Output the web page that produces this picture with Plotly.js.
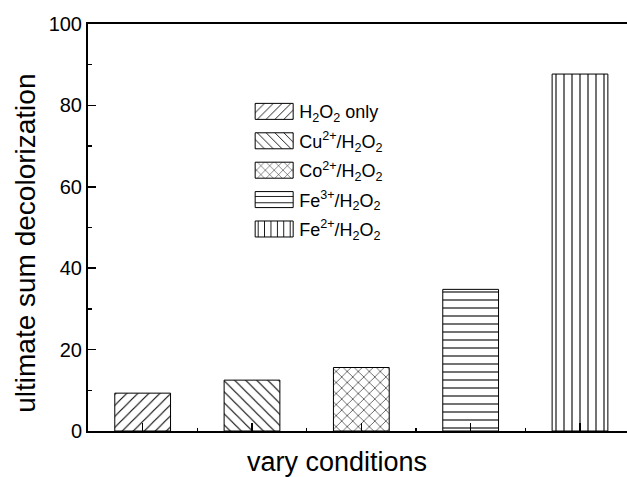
<!DOCTYPE html>
<html>
<head>
<meta charset="utf-8">
<script src="https://cdn.plot.ly/plotly-3.0.1.min.js"></script>
<style>html,body{margin:0;padding:0;background:#fff;overflow:hidden;}</style>
</head>
<body>
<div id="chart" style="width:627px;height:477px;"></div>
<script>
// Data
const categories = ['H<sub>2</sub>O<sub>2</sub> only', 'Cu<sup>2+</sup>/H<sub>2</sub>O<sub>2</sub>', 'Co<sup>2+</sup>/H<sub>2</sub>O<sub>2</sub>', 'Fe<sup>3+</sup>/H<sub>2</sub>O<sub>2</sub>', 'Fe<sup>2+</sup>/H<sub>2</sub>O<sub>2</sub>'];
const decolorization = [9.3, 12.5, 15.6, 34.8, 87.7];
const patterns = ['/', '\\', 'x', '-', '|'];
const patternSizes = [7.8, 7.8, 7.8, 8, 8];
const yTicks = [0, 20, 40, 60, 80, 100];
const xTitle = 'vary conditions';
const yTitle = 'ultimate sum decolorization';

const FONT = 'Liberation Sans, Arial, sans-serif';

const traces = categories.map((name, i) => ({
  type: 'bar',
  name: name,
  legendgroup: 'g' + i,
  x: [i + 1],
  y: [decolorization[i]],
  width: 0.51,
  marker: {
    color: 'white',
    line: {color: 'black', width: 1},
    pattern: {shape: patterns[i], size: patternSizes[i], solidity: 1.1 / patternSizes[i], fgcolor: 'black', bgcolor: 'white', fillmode: 'replace'}
  },
  hoverinfo: 'skip'
}));

const layout = {
  width: 627, height: 477,
  margin: {l: 88, r: 0, t: 24, b: 46, pad: 0},
  paper_bgcolor: 'white', plot_bgcolor: 'white',
  font: {family: FONT, color: 'black'},
  barmode: 'overlay',
  showlegend: true,
  legend: {
    x: 0.299, y: 0.83, xanchor: 'left', yanchor: 'top',
    bgcolor: 'rgba(0,0,0,0)', borderwidth: 0,
    font: {family: FONT, size: 18, color: 'black'},
    itemwidth: 40, traceorder: 'grouped', tracegroupgap: 3
  },
  xaxis: {
    type: 'linear', range: [0.5, 5.43], showgrid: false, zeroline: false,
    showline: true, linecolor: 'black', linewidth: 2, mirror: true,
    ticks: 'inside', ticklen: 8, tickwidth: 1.5, tickcolor: 'black',
    tick0: 1, dtick: 1, showticklabels: false,
    minor: {ticks: 'inside', ticklen: 3, tickwidth: 1.5, tickcolor: 'black', dtick: 0.5, tick0: 0.5, showgrid: false}
  },
  yaxis: {
    range: [0, 100], showgrid: false, zeroline: false,
    showline: true, linecolor: 'black', linewidth: 2, mirror: false,
    ticks: 'inside', ticklen: 8, tickwidth: 1.5, tickcolor: 'black',
    tickmode: 'array', tickvals: yTicks, ticktext: yTicks.map(String),
    tickfont: {family: FONT, size: 20, color: 'black'},
    minor: {ticks: 'inside', ticklen: 4, tickwidth: 1.5, tickcolor: 'black', dtick: 10, tick0: 0, showgrid: false}
  },
  annotations: [
    {text: xTitle, xref: 'paper', yref: 'paper', x: 0.462, y: -0.076, xanchor: 'center', yanchor: 'middle', showarrow: false, font: {family: FONT, size: 27, color: 'black'}},
    {text: yTitle, xref: 'paper', yref: 'paper', x: -0.115, y: 0.46, xanchor: 'center', yanchor: 'middle', textangle: -90, showarrow: false, font: {family: FONT, size: 28, color: 'black'}}
  ]
};

Plotly.newPlot('chart', traces, layout, {displayModeBar: false, staticPlot: true}).then(gd => {
  gd.querySelectorAll('.legend .legendpoints path').forEach(p => {
    p.setAttribute('d', 'M19,8H-19V-8H19Z');
  });
});
</script>
</body>
</html>
